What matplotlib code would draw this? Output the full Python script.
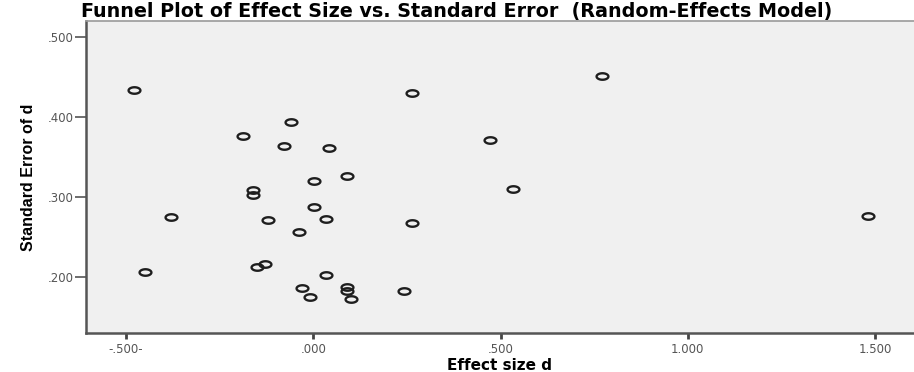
"""Funnel plot (SPSS style)"""

import numpy as np
import matplotlib
matplotlib.use("Agg")
import matplotlib.pyplot as plt
from matplotlib.path import Path


# 効果量 d
effect_d = [
    -0.479, 0.263, -0.059, -0.188, -0.079, 0.041, 0.091, 0.002, -0.160, -0.160,
    -0.379, -0.120, 0.001, 0.033, -0.038, 0.263, -0.448, -0.151, -0.128, 0.033,
    -0.029, -0.008, 0.091, 0.091, 0.102, 0.241, 0.772, 0.472, 0.533, 1.482,
]
# 標準誤差
se_d = [
    0.433, 0.430, 0.393, 0.376, 0.363, 0.361, 0.326, 0.320, 0.309, 0.302,
    0.275, 0.271, 0.287, 0.273, 0.256, 0.268, 0.206, 0.212, 0.216, 0.2025,
    0.186, 0.175, 0.188, 0.182, 0.173, 0.182, 0.451, 0.371, 0.310, 0.276,
]

x_ticks = [-0.5, 0.0, 0.5, 1.0, 1.5]
x_ticklabels = ["-.500-", ".000", ".500", "1.000", "1.500"]
y_ticks = [0.2, 0.3, 0.4, 0.5]
y_ticklabels = [".200", ".300", ".400", ".500"]


def main():
    fig = plt.figure(figsize=(9.14, 3.72), dpi=100)
    ax = fig.add_axes([0.094, 0.105, 0.906, 0.839])
    ax.set_facecolor("#f0f0f0")

    # 横長の楕円マーカー
    t = np.linspace(0, 2 * np.pi, 60)
    ellipse = Path(np.column_stack([np.cos(t), 0.55 * np.sin(t)]), closed=True)

    ax.plot(effect_d, se_d, linestyle="none", marker=ellipse, markersize=8.5,
            markerfacecolor="none", markeredgecolor="#1e1e1e", markeredgewidth=1.7)

    ax.set_xlim(-0.607, 1.604)
    ax.set_ylim(0.13, 0.52)

    ax.set_xticks(x_ticks)
    ax.set_xticklabels(x_ticklabels)
    ax.set_yticks(y_ticks)
    ax.set_yticklabels(y_ticklabels)
    ax.tick_params(axis="x", length=4, width=2, color="#444444", labelsize=8.5,
                   labelcolor="#555555", pad=3)
    ax.tick_params(axis="y", length=8, width=1.2, color="#555555", labelsize=8.5,
                   labelcolor="#555555", pad=1)

    for side in ("left", "bottom"):
        ax.spines[side].set_color("#555555")
        ax.spines[side].set_linewidth(1.8)
    ax.spines["top"].set_color("#9a9a9a")
    ax.spines["top"].set_linewidth(1.2)
    ax.spines["right"].set_visible(False)

    ax.set_xlabel("Effect size d", fontsize=11, fontweight="bold",
                  family=["DejaVu Sans"], labelpad=2)
    ax.set_ylabel("Standard Error of d", fontsize=11.5, fontweight="bold",
                  family=["Liberation Sans Narrow", "Liberation Sans", "DejaVu Sans"],
                  labelpad=8)

    fig.text(0.5, 0.968,
             "Funnel Plot of Effect Size vs. Standard Error  (Random-Effects Model)",
             ha="center", va="center", fontsize=13.8, fontweight="bold",
             family=["DejaVu Sans"])

    fig.savefig("out.png", dpi=100)


if __name__ == "__main__":
    main()
